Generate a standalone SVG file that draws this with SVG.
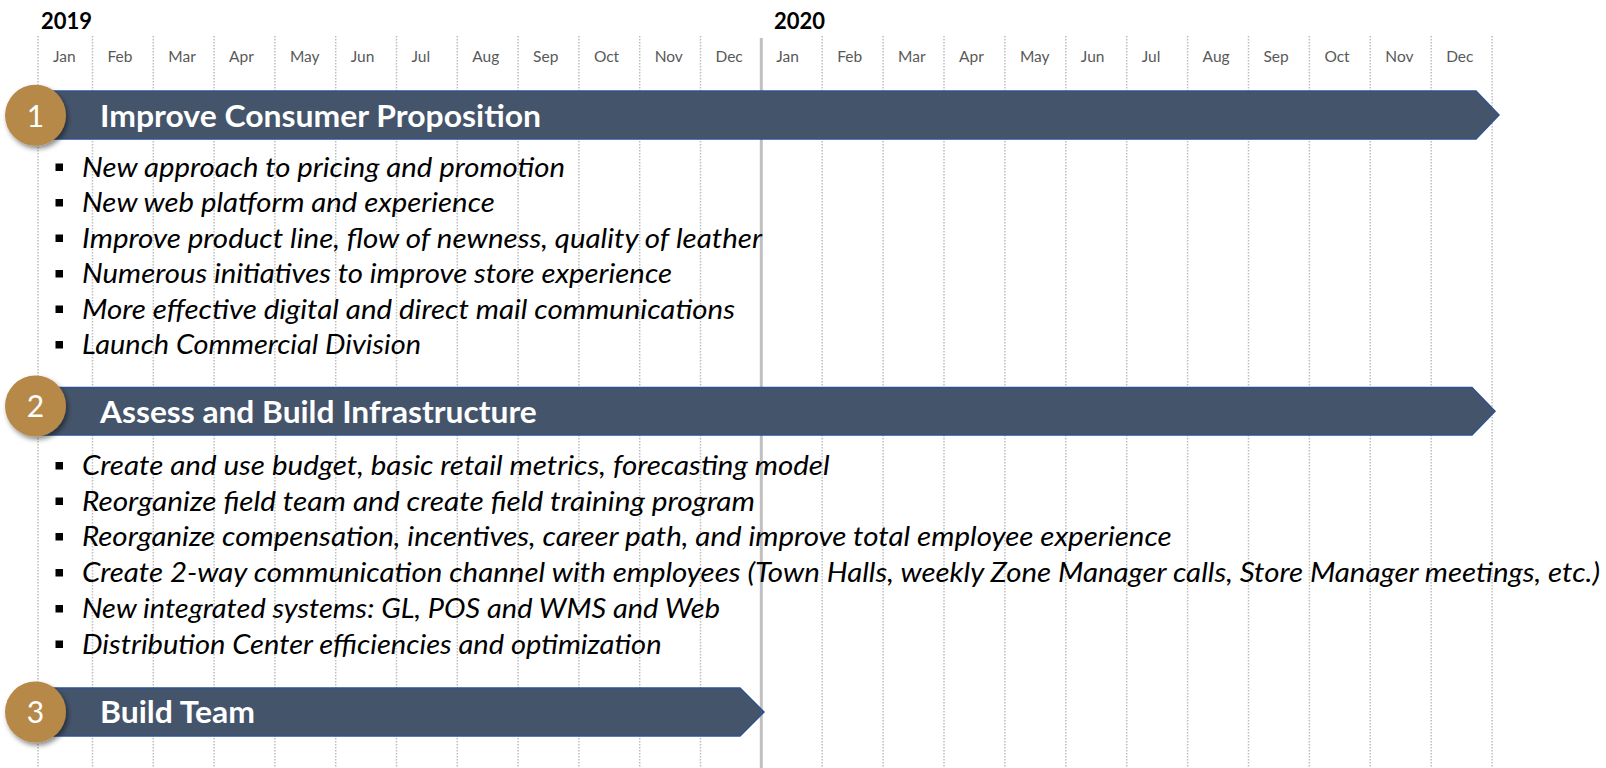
<svg xmlns="http://www.w3.org/2000/svg" width="1606" height="768" viewBox="0 0 1606 768">
  <defs>
    <style>
      .grid { stroke: #bdbdbd; stroke-width: 1.5; stroke-dasharray: 1.5 1.5; fill: none; }
      .yearline { stroke: #c0c0c0; stroke-width: 3; }
      .year { font-family: Lato, "Liberation Sans", sans-serif; font-weight: 700; font-size: 22px; fill: #000; }
      .month { font-family: Lato, "Liberation Sans", sans-serif; font-weight: 400; font-size: 15.5px; fill: #595959; }
      .bar { fill: #44546a; stroke: #2f528f; stroke-width: 1.5; }
      .badge { fill: #b7894a; filter: url(#shadow); }
      .num { font-family: Lato, "Liberation Sans", sans-serif; font-size: 30px; fill: #fff; text-anchor: middle; }
      .title { font-family: Lato, "Liberation Sans", sans-serif; font-weight: 700; font-size: 30px; fill: #fff; }
      .item { font-family: Lato, "Liberation Sans", sans-serif; font-style: italic; font-size: 27px; fill: #000; }
      .dot { fill: #000; }
    </style>
    <filter id="shadow" x="-30%" y="-30%" width="170%" height="170%">
      <feDropShadow dx="2" dy="3" stdDeviation="2.5" flood-color="#000" flood-opacity="0.45"/>
    </filter>
  </defs>

  <rect width="1606" height="768" fill="#fff"/>

  <!-- month grid -->
  <g id="timeline-grid">
    <g class="grid">
      <line x1="38" y1="36" x2="38" y2="768"/>
      <line x1="92.5" y1="36" x2="92.5" y2="768"/>
      <line x1="153.3" y1="36" x2="153.3" y2="768"/>
      <line x1="214.1" y1="36" x2="214.1" y2="768"/>
      <line x1="274.9" y1="36" x2="274.9" y2="768"/>
      <line x1="335.7" y1="36" x2="335.7" y2="768"/>
      <line x1="396.5" y1="36" x2="396.5" y2="768"/>
      <line x1="457.3" y1="36" x2="457.3" y2="768"/>
      <line x1="518.1" y1="36" x2="518.1" y2="768"/>
      <line x1="578.9" y1="36" x2="578.9" y2="768"/>
      <line x1="639.7" y1="36" x2="639.7" y2="768"/>
      <line x1="700.5" y1="36" x2="700.5" y2="768"/>
      <line x1="822.2" y1="36" x2="822.2" y2="768"/>
      <line x1="883.1" y1="36" x2="883.1" y2="768"/>
      <line x1="944" y1="36" x2="944" y2="768"/>
      <line x1="1004.9" y1="36" x2="1004.9" y2="768"/>
      <line x1="1065.8" y1="36" x2="1065.8" y2="768"/>
      <line x1="1126.7" y1="36" x2="1126.7" y2="768"/>
      <line x1="1187.6" y1="36" x2="1187.6" y2="768"/>
      <line x1="1248.5" y1="36" x2="1248.5" y2="768"/>
      <line x1="1309.4" y1="36" x2="1309.4" y2="768"/>
      <line x1="1370.3" y1="36" x2="1370.3" y2="768"/>
      <line x1="1431.2" y1="36" x2="1431.2" y2="768"/>
      <line x1="1492.1" y1="36" x2="1492.1" y2="768"/>
    </g>
    <line class="yearline" x1="761.3" y1="38" x2="761.3" y2="768"/>

    <text class="year" x="41" y="29">2019</text>
    <text class="year" x="774" y="29">2020</text>

    <g class="month">
      <text x="53" y="61.5">Jan</text>
      <text x="107.5" y="61.5">Feb</text>
      <text x="168.3" y="61.5">Mar</text>
      <text x="229.1" y="61.5">Apr</text>
      <text x="289.9" y="61.5">May</text>
      <text x="350.7" y="61.5">Jun</text>
      <text x="411.5" y="61.5">Jul</text>
      <text x="472.3" y="61.5">Aug</text>
      <text x="533.1" y="61.5">Sep</text>
      <text x="593.9" y="61.5">Oct</text>
      <text x="654.7" y="61.5">Nov</text>
      <text x="715.5" y="61.5">Dec</text>
      <text x="776.3" y="61.5">Jan</text>
      <text x="837.2" y="61.5">Feb</text>
      <text x="898.1" y="61.5">Mar</text>
      <text x="959" y="61.5">Apr</text>
      <text x="1019.9" y="61.5">May</text>
      <text x="1080.8" y="61.5">Jun</text>
      <text x="1141.7" y="61.5">Jul</text>
      <text x="1202.6" y="61.5">Aug</text>
      <text x="1263.5" y="61.5">Sep</text>
      <text x="1324.4" y="61.5">Oct</text>
      <text x="1385.3" y="61.5">Nov</text>
      <text x="1446.2" y="61.5">Dec</text>
    </g>
  </g>

  <!-- no connectors between phases -->
  <g id="connectors"/>

  <!-- phase 1 -->
  <g id="phase-1">
    <path class="bar" d="M40,91 H1476 L1499,115 L1476,139 H40 Z"/>
    <circle class="badge" cx="35.5" cy="115.3" r="30.5"/>
    <text class="num" x="35.5" y="126.5">1</text>
    <text class="title" x="100" y="127" textLength="441" lengthAdjust="spacingAndGlyphs">Improve Consumer Proposition</text>
    <g class="dot">
      <rect x="55.5" y="163.5" width="7.5" height="7.5"/>
      <rect x="55.5" y="199" width="7.5" height="7.5"/>
      <rect x="55.5" y="234.5" width="7.5" height="7.5"/>
      <rect x="55.5" y="270" width="7.5" height="7.5"/>
      <rect x="55.5" y="305.5" width="7.5" height="7.5"/>
      <rect x="55.5" y="341" width="7.5" height="7.5"/>
    </g>
    <text class="item" x="82" y="176.5" textLength="483" lengthAdjust="spacingAndGlyphs">New approach to pricing and promotion</text>
    <text class="item" x="82" y="212" textLength="412.7" lengthAdjust="spacingAndGlyphs">New web platform and experience</text>
    <text class="item" x="82" y="247.5" textLength="680" lengthAdjust="spacingAndGlyphs">Improve product line, flow of newness, quality of leather</text>
    <text class="item" x="82" y="283" textLength="590" lengthAdjust="spacingAndGlyphs">Numerous initiatives to improve store experience</text>
    <text class="item" x="82" y="318.5" textLength="653" lengthAdjust="spacingAndGlyphs">More effective digital and direct mail communications</text>
    <text class="item" x="82" y="354" textLength="339" lengthAdjust="spacingAndGlyphs">Launch Commercial Division</text>
  </g>

  <!-- phase 2 -->
  <g id="phase-2">
    <path class="bar" d="M40,387.5 H1472 L1495,411.2 L1472,435 H40 Z"/>
    <circle class="badge" cx="35.5" cy="406" r="30.5"/>
    <text class="num" x="35.5" y="417">2</text>
    <text class="title" x="100" y="422.5" textLength="436.7" lengthAdjust="spacingAndGlyphs">Assess and Build Infrastructure</text>
    <g class="dot">
      <rect x="55.5" y="462" width="7.5" height="7.5"/>
      <rect x="55.5" y="497.5" width="7.5" height="7.5"/>
      <rect x="55.5" y="533" width="7.5" height="7.5"/>
      <rect x="55.5" y="569" width="7.5" height="7.5"/>
      <rect x="55.5" y="605" width="7.5" height="7.5"/>
      <rect x="55.5" y="640.5" width="7.5" height="7.5"/>
    </g>
    <text class="item" x="82" y="475" textLength="747.6" lengthAdjust="spacingAndGlyphs">Create and use budget, basic retail metrics, forecasting model</text>
    <text class="item" x="82" y="510.5" textLength="673" lengthAdjust="spacingAndGlyphs">Reorganize field team and create field training program</text>
    <text class="item" x="82" y="546" textLength="1089.7" lengthAdjust="spacingAndGlyphs">Reorganize compensation, incentives, career path, and improve total employee experience</text>
    <text class="item" x="82" y="582" textLength="1518" lengthAdjust="spacingAndGlyphs">Create 2-way communication channel with employees (Town Halls, weekly Zone Manager calls, Store Manager meetings, etc.)</text>
    <text class="item" x="82" y="618" textLength="638" lengthAdjust="spacingAndGlyphs">New integrated systems: GL, POS and WMS and Web</text>
    <text class="item" x="82" y="653.5" textLength="579.6" lengthAdjust="spacingAndGlyphs">Distribution Center efficiencies and optimization</text>
  </g>

  <!-- phase 3 -->
  <g id="phase-3">
    <path class="bar" d="M40,688 H740 L764,712 L740,736 H40 Z"/>
    <circle class="badge" cx="35.5" cy="712" r="30.5"/>
    <text class="num" x="35.5" y="723">3</text>
    <text class="title" x="100" y="722.5" textLength="155" lengthAdjust="spacingAndGlyphs">Build Team</text>
  </g>
</svg>
